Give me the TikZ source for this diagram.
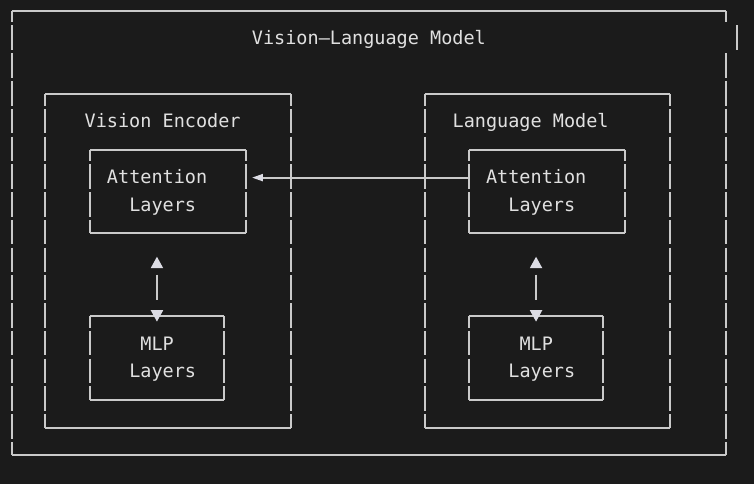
\documentclass[tikz,border=0pt]{standalone}
\usepackage{fontspec}
\newfontfamily\termfont{DejaVu Sans Mono}
\usetikzlibrary{arrows.meta,fit}
\definecolor{termbg}{HTML}{1B1B1B}
\definecolor{termline}{HTML}{CACACA}
\definecolor{termtext}{HTML}{E0E0E0}
\definecolor{termtip}{HTML}{DCDCE4}
\tikzset{
	hline/.style={draw=termline, line width=2pt},
	vline/.style={hline, dash pattern=on 24.5pt off 3.27pt, dash phase=13.3pt},
	boxarea/.style={inner sep=0pt, outer sep=0pt},
	lbl/.style={font=\termfont\fontsize{18.5pt}{27.77pt}\selectfont, text=termtext, inner sep=0pt, anchor=base west},
	leftarrow/.style={hline, -{Triangle[length=11pt,width=7pt,color=termtip]}},
	updown/.style={hline, {Triangle[length=11.5pt,width=12pt,color=termtip]}-{Triangle[length=11.5pt,width=12pt,color=termtip]}, dash pattern=on 25pt off 18pt, dash phase=36pt}
}
\newcommand{\asciibox}[1]{%
	\draw[hline] (#1.north west) -- (#1.north east);
	\draw[hline] (#1.south west) -- (#1.south east);
	\draw[vline] (#1.north west) -- (#1.south west);
	\draw[vline] (#1.north east) -- (#1.south east);
}
\begin{document}
\begin{tikzpicture}[x=11.15pt, y=-27.77pt]
		\useasboundingbox[fill=termbg] (-1.0762,-0.3961) rectangle (66.547,17.0328);
		% boxes on the character grid (column, row)
		\node[boxarea, fit={(0,0) (64,16)}] (vlm) {};
		\node[boxarea, fit={(3,3) (25,15)}] (venc) {};
		\node[boxarea, fit={(37,3) (59,15)}] (lenc) {};
		\node[boxarea, fit={(7,5) (21,8)}] (vattn) {};
		\node[boxarea, fit={(41,5) (55,8)}] (lattn) {};
		\node[boxarea, fit={(7,11) (19,14)}] (vmlp) {};
		\node[boxarea, fit={(41,11) (53,14)}] (lmlp) {};
		\foreach \b in {venc,lenc,vattn,lattn,vmlp,lmlp} {\asciibox{\b}}
		% outer frame, right side is shifted on the title row
		\draw[hline] (vlm.north west) -- (vlm.north east);
		\draw[hline] (vlm.south west) -- (vlm.south east);
		\draw[vline] (vlm.north west) -- (vlm.south west);
		\draw[hline] (vlm.north east) -- ([yshift=-11.2pt]vlm.north east);
		\draw[hline, dash pattern=on 24.5pt off 3.27pt] ([yshift=-42.24pt]vlm.north east) -- (vlm.south east);
		\draw[hline] ([xshift=11.15pt,yshift=-14.47pt]vlm.north east) -- ++(0,-24.5pt);
		% labels
		\node[lbl] (vlmtitle) at (21.5,1.209) {Vision–Language Model};
		\node[lbl] (venctitle) at (6.5,4.209) {Vision Encoder};
		\node[lbl] (lenctitle) at (39.5,4.209) {Language Model};
		\node[lbl] (vattntop) at (8.5,6.209) {Attention};
		\node[lbl] (vattnbot) at (10.5,7.209) {Layers};
		\node[lbl] (lattntop) at (42.5,6.209) {Attention};
		\node[lbl] (lattnbot) at (44.5,7.209) {Layers};
		\node[lbl] (vmlptop) at (11.5,12.209) {MLP};
		\node[lbl] (vmlpbot) at (10.5,13.209) {Layers};
		\node[lbl] (lmlptop) at (45.5,12.209) {MLP};
		\node[lbl] (lmlpbot) at (44.5,13.209) {Layers};
		% connectors
		\draw[leftarrow, shorten >=5.8pt] ([yshift=13.885pt]lattn.west) -- ([yshift=13.885pt]vattn.east);
		\draw[updown, shorten <=23.5pt, shorten >=-5.2pt] (vattn.south -| vmlp.north) -- (vmlp.north);
		\draw[updown, shorten <=23.5pt, shorten >=-5.2pt] (lattn.south -| lmlp.north) -- (lmlp.north);
\end{tikzpicture}
\end{document}
